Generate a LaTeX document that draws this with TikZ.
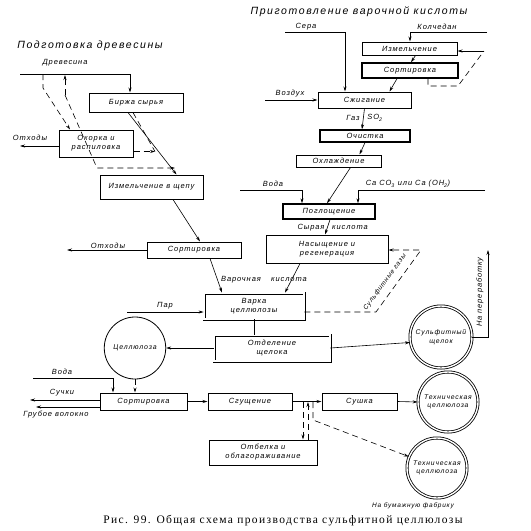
\documentclass[tikz,border=0pt]{standalone}
\usepackage{fontspec}
\setmainfont{Liberation Sans}
\newfontfamily\lf[LetterSpace=12]{Liberation Sans}
\newfontfamily\tf[LetterSpace=15]{Liberation Sans}
\newfontfamily\cf[LetterSpace=12]{Liberation Serif}
\usetikzlibrary{arrows.meta,calc,shapes.geometric}
\begin{document}
\begin{tikzpicture}[x=1pt,y=-1pt,
  lbl/.style={font=\lf\itshape\fontsize{7.5}{8.5}\selectfont, inner sep=0pt},
  ttl/.style={font=\tf\itshape\fontsize{10.5}{12}\selectfont, inner sep=0pt},
  bx/.style={draw, line width=1pt, inner sep=1pt, align=center, font=\lf\itshape\fontsize{7.5}{9}\selectfont},
  tbx/.style={bx, line width=1.4pt},
  dbx/.style={bx, double, double distance=1.4pt, line width=0.8pt},
  cn/.style={line width=0.6pt},
  ar/.style={cn, -{Stealth[length=5pt,width=3pt]}},
  dsh/.style={cn, dash pattern=on 6pt off 4pt},
  dar/.style={ar, dash pattern=on 6pt off 4pt},
  crc/.style={draw, circle, double, double distance=1.4pt, line width=0.8pt, align=center, inner sep=0pt, font=\lf\itshape\fontsize{6.8}{8.5}\selectfont}
]
\useasboundingbox (0,0) rectangle (531,531);

% titles
\node[ttl] (t1) at (90,46) {Подготовка древесины};
\node[ttl] (t2) at (359,12) {Приготовление варочной кислоты};

% ---------- left branch ----------
\node[bx, minimum width=94pt, minimum height=19pt] (birzha) at (136,102.5) {Биржа сырья};
\node[bx, minimum width=74pt, minimum height=27pt] (okorka) at (96,143.5) {Окорка и\\распиловка};
\node[bx, minimum width=103pt, minimum height=24pt] (izm1) at (151.5,187) {Измельчение в щепу};
\node[bx, minimum width=94pt, minimum height=16pt] (sort1) at (194,250) {Сортировка};
\node[dbx, minimum width=100pt, minimum height=26pt] (varka) at (254,306) {Варка\\целлюлозы};
\node[dbx, minimum width=116pt, minimum height=26pt] (otdel) at (272,348) {Отделение\\щелока};
\node[draw, ellipse, line width=0.8pt, minimum width=56pt, minimum height=62pt, inner sep=0pt, font=\lf\itshape\fontsize{7}{8.5}\selectfont] (cell) at (135,348) {Целлюлоза};
\node[crc, minimum size=62pt] (sulf) at (441,337) {Сульфитный\\щелок};

\node[lbl] (ldrev) at (65,63) {Древесина};
\coordinate (d0) at (20,74);
\draw[ar] (d0) -| ([xshift=-6pt]birzha.north);
\coordinate (dA0) at (43,74);
\coordinate (dA1) at (43,88);
\draw[dar] (dA0) -- (dA1) -- ([xshift=-26pt]okorka.north);
\coordinate (dB0) at (65,75);
\coordinate (dB1) at (65,95);
\coordinate (dB2) at (97,168);
\coordinate (dB3) at (175,168);
\draw[dar] (dB1) -- (dB0);
\draw[dar] (dB1) -- (dB2) -- (dB3);
\draw[ar] ([xshift=-8pt]birzha.south) -- ([xshift=25pt]izm1.north);
\coordinate (dC) at (155,151.5);
\draw[dsh] ([xshift=-3pt]birzha.south) -- (dC);
\draw[dar] ([yshift=-8pt]okorka.east) -- (dC);
\node[lbl] (lot1) at (30,138) {Отходы};
\coordinate (ot1) at (20,146);
\draw[ar] ([yshift=-2.5pt]okorka.west) -- (ot1);
\draw[ar] ([xshift=21.5pt]izm1.south) -- ([xshift=6pt]sort1.north);
\node[lbl] (lot2) at (108,246) {Отходы};
\coordinate (ot2) at (67,250);
\draw[ar] (sort1.west) -- (ot2);
\draw[ar] ([xshift=16pt]sort1.south) -- ([xshift=-32pt]varka.north);
\node[lbl] (lpar) at (165,306) {Пар};
\coordinate (par0) at (127,312);
\draw[ar] (par0) -- ([yshift=-6pt]varka.west);
\draw[cn] (varka.south) -- (varka.south |- otdel.north);
\draw[ar] (otdel.west) -- (cell.east);
\draw[ar] (otdel.east) -- (sulf.190);
\coordinate (np1) at (488,337);
\coordinate (np2) at (488,250);
\draw[ar] (sulf.east) -- (np1) -- (np2);
\node[lbl, rotate=90] (lnp) at (480,292) {На переработку};

% ---------- right branch ----------
\node[bx, minimum width=95pt, minimum height=13pt] (izm2) at (409.5,48.5) {Измельчение};
\node[tbx, minimum width=96pt, minimum height=15pt] (sort3) at (410,70.5) {Сортировка};
\node[bx, minimum width=93pt, minimum height=16pt] (szhig) at (364.5,100) {Сжигание};
\node[tbx, minimum width=90pt, minimum height=12pt] (ochist) at (365,136) {Очистка};
\node[bx, minimum width=85pt, minimum height=12pt] (ohlazh) at (338.5,161) {Охлаждение};
\node[tbx, minimum width=92pt, minimum height=15pt] (pogl) at (329,211.5) {Поглощение};
\node[bx, minimum width=122pt, minimum height=28pt] (nasysh) at (327,249) {Насыщение и\\регенерация};

\node[lbl] (lsera) at (306,27) {Сера};
\coordinate (s0) at (285,32);
\draw[ar] (s0) -| ([xshift=-19.5pt]szhig.north);
\node[lbl] (lkol) at (437,27) {Колчедан};
\coordinate (k0) at (487,32);
\draw[ar] (k0) -| ([xshift=0.5pt]izm2.north);
\draw[ar] ([xshift=6pt]izm2.south) -- ([xshift=1pt]sort3.north);
\coordinate (l1) at (428,86);
\coordinate (l2) at (458,86);
\coordinate (l3) at (484,51);
\draw[dsh] ([xshift=18pt]sort3.south) -- (l1) -- (l2) -- (l3);
\draw[ar] (l3) -- ([yshift=-2.5pt]izm2.east);
\draw[ar] ([xshift=-13pt]sort3.south) -- ([xshift=25pt]szhig.north);
\node[lbl] (lvoz) at (290,94) {Воздух};
\coordinate (v0) at (265,100);
\draw[ar] (v0) -- (szhig.west);
\node[lbl] (lgaz) at (353,118) {Газ};
\node[lbl] (lso) at (375,118) {SO\textsubscript{2}};
\draw[ar] ([xshift=0pt]szhig.south) -- ([xshift=-3pt]ochist.north);
\draw[ar] (ochist.south) -- ([xshift=21pt]ohlazh.north);
\draw[ar] ([xshift=12pt]ohlazh.south) -- ([xshift=-2pt]pogl.north);
\node[lbl] (lvod) at (273,184) {Вода};
\coordinate (w0) at (240,190);
\draw[ar] (w0) -| ([xshift=-27pt]pogl.north);
\node[lbl] (lca) at (408,184) {Ca CO\textsubscript{3} или Ca (OH\textsubscript{2})};
\coordinate (c0) at (485,190);
\draw[ar] (c0) -| ([xshift=29pt]pogl.north);
\node[lbl] (lsyr) at (311,227.5) {Сырая};
\node[lbl] (lkis1) at (350,227.5) {кислота};
\draw[ar] ([xshift=1pt]pogl.south) -- ([xshift=-2pt]nasysh.north);
\node[lbl] (lvar) at (241,280) {Варочная};
\node[lbl] (lkis2) at (289,280) {кислота};
\draw[ar] ([xshift=-27pt]nasysh.south) -- ([xshift=31pt]varka.north);
\coordinate (g1) at (376,312);
\coordinate (g2) at (421,250);
\draw[dar] ([yshift=-6pt]varka.east) -- (g1) -- (g2) -- ([yshift=-1pt]nasysh.east);
\node[lbl, rotate=54, font=\lf\itshape\fontsize{6.5}{8}\selectfont] (lsg) at (385,282) {Сульфитные газы};

% ---------- bottom row ----------
\node[bx, minimum width=87pt, minimum height=17pt] (sort2) at (143.5,401.5) {Сортировка};
\node[bx, minimum width=84pt, minimum height=17pt] (sgush) at (250,401.5) {Сгущение};
\node[bx, minimum width=75pt, minimum height=17pt] (sushka) at (359.5,401.5) {Сушка};
\node[bx, minimum width=108pt, minimum height=25pt] (otbel) at (263,452.5) {Отбелка и\\облагораживание};
\node[crc, minimum size=60pt] (tech1) at (448,402) {Техническая\\целлюлоза};
\node[crc, minimum size=60pt] (tech2) at (437,468) {Техническая\\целлюлоза};

\node[lbl] (lvod2) at (62,372) {Вода};
\coordinate (w2) at (33,378);
\draw[ar] (w2) -| ([xshift=-30.5pt]sort2.north);
\draw[dar] (cell.south) -- (cell.south |- sort2.north);
\node[lbl] (lsuch) at (62,393) {Сучки};
\coordinate (su0) at (30,400);
\draw[ar] ([yshift=1.5pt]sort2.west) -- (su0);
\node[lbl] (lgrub) at (56,415) {Грубое волокно};
\coordinate (gr0) at (36,407);
\draw[ar] ([yshift=-5.5pt]sort2.west) -- (gr0);
\draw[ar] (sort2.east) -- (sgush.west);
\draw[ar] (sgush.east) -- (sushka.west);
\coordinate (j1) at (303,402);
\coordinate (j2) at (308,402);
\coordinate (j3) at (313,402);
\coordinate (j4) at (313,420);
\draw[dar] (j1) -- (j1 |- otbel.north);
\draw[dar] (j2 |- otbel.north) -- (j2);
\draw[dar] (j3) -- (j4) -- (tech2.158);
\draw[ar] (sushka.east) -- (tech1.west);
\node[lbl, font=\lf\itshape\fontsize{6.5}{8}\selectfont] (lbum) at (413,506) {На бумажную фабрику};

% caption
\node[inner sep=0pt, font=\cf\fontsize{11.5}{13}\selectfont] (cap) at (283,521) {Рис. 99. Общая схема производства сульфитной целлюлозы};
\end{tikzpicture}
\end{document}
